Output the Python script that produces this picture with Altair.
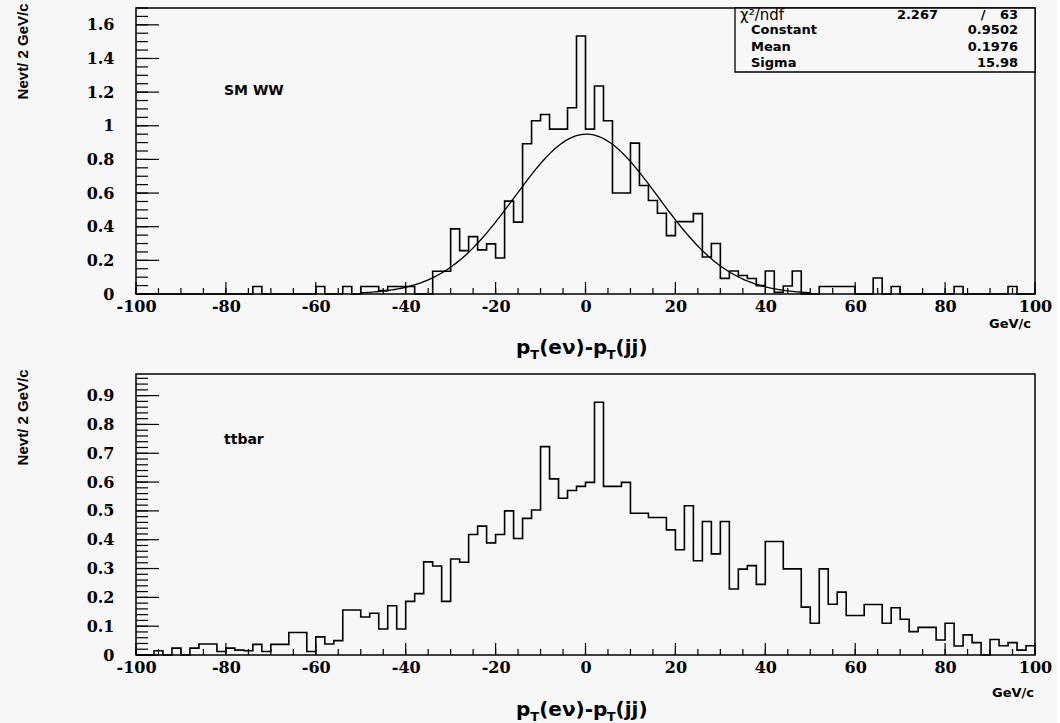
import altair as alt
import numpy as np
import pandas as pd

# ---------------- data ----------------
EDGES = list(range(-100, 101, 2))  # 2 GeV/c bins

SM_WW = [
    0, 0, 0, 0, 0, 0, 0, 0, 0, 0,                                   # -100..-82
    0, 0, 0, 0.045, 0, 0, 0, 0, 0, 0,                               # -80..-62
    0.045, 0, 0, 0.045, 0, 0.045, 0.045, 0.02, 0.045, 0.045,        # -60..-42
    0.045, 0, 0, 0.135, 0.135, 0.387, 0.258, 0.341, 0.262, 0.298,   # -40..-22
    0.214, 0.552, 0.427, 0.893, 1.03, 1.067, 0.98, 0.98, 1.107, 1.534,  # -20..-2
    0.98, 1.236, 1.03, 0.60, 0.60, 0.897, 0.645, 0.556, 0.48, 0.347,    # 0..18
    0.43, 0.43, 0.478, 0.22, 0.30, 0.093, 0.137, 0.11, 0.092, 0.05,     # 20..38
    0.137, 0.01, 0.048, 0.137, 0, 0, 0.045, 0.045, 0.045, 0.045,        # 40..58
    0, 0, 0.095, 0, 0.045, 0, 0, 0, 0, 0,                               # 60..78
    0, 0.045, 0, 0, 0, 0, 0, 0.045, 0, 0,                               # 80..98
]

TTBAR = [
    0, 0, 0.015, 0, 0.024, 0, 0.024, 0.038, 0.038, 0.012,               # -100..-82
    0.024, 0.017, 0.015, 0.037, 0.012, 0.037, 0.037, 0.078, 0.078, 0.012,  # -80..-62
    0.063, 0.038, 0.05, 0.156, 0.156, 0.132, 0.145, 0.09, 0.171, 0.09,  # -60..-42
    0.186, 0.213, 0.323, 0.309, 0.186, 0.333, 0.322, 0.418, 0.447, 0.389,  # -40..-22
    0.418, 0.50, 0.404, 0.474, 0.503, 0.723, 0.611, 0.544, 0.571, 0.585,  # -20..-2
    0.599, 0.877, 0.585, 0.585, 0.599, 0.492, 0.492, 0.477, 0.477, 0.434,  # 0..18
    0.365, 0.518, 0.327, 0.463, 0.351, 0.463, 0.229, 0.298, 0.31, 0.245,  # 20..38
    0.394, 0.394, 0.299, 0.299, 0.166, 0.11, 0.299, 0.176, 0.218, 0.137,  # 40..58
    0.137, 0.175, 0.175, 0.11, 0.164, 0.124, 0.081, 0.096, 0.096, 0.052,  # 60..78
    0.11, 0.031, 0.07, 0.043, 0, 0.054, 0.032, 0.043, 0.017, 0.032,       # 80..98
]

# Gaussian fit parameters shown in the stats box
FIT_CONSTANT = 0.9502
FIT_MEAN = 0.1976
FIT_SIGMA = 15.98
FIT_RANGE = [-50, 50]
STAT_LABELS = ["Constant", "Mean", "Sigma"]
STAT_VALUES = ["0.9502", "0.1976", "15.98"]
CHI2 = "2.267"
NDF = "63"

X_MAJOR = list(range(-100, 101, 20))
X_MINOR = list(range(-100, 101, 5))
TOP_Y_MAJOR = [0, 0.2, 0.4, 0.6, 0.8, 1.0, 1.2, 1.4, 1.6]
TOP_Y_MINOR = [round(0.05 * i, 2) for i in range(0, 35)]
BOT_Y_MAJOR = [0, 0.1, 0.2, 0.3, 0.4, 0.5, 0.6, 0.7, 0.8, 0.9]
BOT_Y_MINOR = [round(0.02 * i, 2) for i in range(0, 49)]

W = 899
BG = "#f7f7f7"
NUMFONT = "DejaVu Serif"
SANS = "DejaVu Sans"


def step_df(vals):
    return pd.DataFrame({"x": EDGES, "y": list(vals) + [vals[-1]]})


def panel(vals, ydom, ymaj, ymin, H, tag, gev_y, title_y, with_fit):
    xscale = alt.Scale(domain=[-100, 100], nice=False, zero=False)
    yscale = alt.Scale(domain=ydom, nice=False, zero=False)
    xaxis = alt.Axis(values=X_MAJOR, labelExpr="datum.value + ''", ticks=False,
                     domain=False, grid=False, title=None, labelFont=NUMFONT,
                     labelFontSize=16, labelFontWeight="bold", labelColor="black",
                     labelPadding=4, labelFlush=False, labelOverlap=False)
    yaxis = alt.Axis(values=ymaj, format=".1~f", ticks=False, domain=False,
                     grid=False, title="Nevt/ 2 GeV/c", labelFont=NUMFONT,
                     labelFontSize=16, labelFontWeight="bold", labelColor="black",
                     labelPadding=22, labelFlush=False, labelOverlap=False,
                     titleFont="Liberation Sans Narrow, Liberation Sans, Arial",
                     titleFontSize=15, titleFontWeight="bold", titleColor="black",
                     titleAngle=270, titleAlign="right", titleBaseline="middle",
                     titleX=-114, titleY=-5)

    hist = alt.Chart(step_df(vals)).mark_line(
        interpolate="step-after", color="black", strokeWidth=1.6
    ).encode(x=alt.X("x:Q", scale=xscale, axis=xaxis),
             y=alt.Y("y:Q", scale=yscale, axis=yaxis))

    def xticks(vals_, length):
        return alt.Chart(pd.DataFrame({"x": vals_})).mark_rule(
            color="black", strokeWidth=1.2
        ).encode(x=alt.X("x:Q", scale=xscale, axis=xaxis),
                 y=alt.value(H), y2=alt.value(H - length))

    def yticks(vals_, length):
        return alt.Chart(pd.DataFrame({"y": vals_})).mark_rule(
            color="black", strokeWidth=1.2
        ).encode(y=alt.Y("y:Q", scale=yscale, axis=yaxis),
                 x=alt.value(0), x2=alt.value(length))

    one = pd.DataFrame({"a": [0]})

    def label(text, x, y, size, align="left", weight="bold", font=SANS, baseline="middle"):
        return alt.Chart(one).mark_text(
            text=text, align=align, baseline=baseline, font=font, fontSize=size,
            fontWeight=weight, color="black"
        ).encode(x=alt.value(x), y=alt.value(y))

    layers = [xticks(X_MINOR, 6), xticks(X_MAJOR, 12),
              yticks(ymin, 12), yticks(ymaj, 23), hist]

    if with_fit:
        gx = np.arange(FIT_RANGE[0], FIT_RANGE[1] + 0.25, 0.5)
        gy = FIT_CONSTANT * np.exp(-0.5 * ((gx - FIT_MEAN) / FIT_SIGMA) ** 2)
        fit = alt.Chart(pd.DataFrame({"x": gx, "y": gy})).mark_line(
            color="black", strokeWidth=1.3
        ).encode(x=alt.X("x:Q", scale=xscale, axis=xaxis),
                 y=alt.Y("y:Q", scale=yscale, axis=yaxis))
        layers.append(fit)
        box = alt.Chart(one).mark_rect(fill=BG, stroke="black", strokeWidth=1.3).encode(
            x=alt.value(599), x2=alt.value(W), y=alt.value(0), y2=alt.value(64))
        layers.append(box)
        layers.append(label("\u03c7\u00b2/ndf", 604, 7, 15, weight="normal"))
        layers.append(label(CHI2, 802, 7, 13, align="right"))
        layers.append(label("/", 847, 7, 13, align="center"))
        layers.append(label(NDF, 882, 7, 13, align="right"))
        for i, (lab, val) in enumerate(zip(STAT_LABELS, STAT_VALUES)):
            yy = 22 + 16.5 * i
            layers.append(label(lab, 615, yy, 13))
            layers.append(label(val, 882, yy, 13, align="right"))

    # panel annotation
    layers.append(label(tag[0], 88, tag[1], 14))
    # GeV/c unit
    layers.append(label("GeV/c", gev_y[0], H + gev_y[1], 13, align="right"))
    # axis title p_T(e nu) - p_T(jj) with subscripts
    x0 = 380
    pieces = [("p", 20, 0, 14.3), ("T", 13, 5, 8.9), ("(e\u03bd)-p", 20, 0, 67.5),
              ("T", 13, 5, 8.9), ("(jj)", 20, 0, 32)]
    for txt, sz, dy, wdt in pieces:
        layers.append(label(txt, x0, H + title_y + dy, sz, baseline="alphabetic"))
        x0 += wdt

    return alt.layer(*layers).properties(width=W, height=H)


top = panel(SM_WW, [0, 1.7], TOP_Y_MAJOR, TOP_Y_MINOR, 286, ("SM WW", 83),
            (895, 30), 60, True)
bottom = panel(TTBAR, [0, 0.975], BOT_Y_MAJOR, BOT_Y_MINOR, 281, ("ttbar", 66),
               (898, 38), 61, False)

chart = alt.vconcat(top, bottom, spacing=80, bounds="flush").properties(
    background=BG, padding={"left": 14, "top": 2, "right": 4, "bottom": 2}
).configure_view(stroke="black", strokeWidth=1.5)

chart.save("out.html", embed_options={"renderer": "svg", "actions": False})
